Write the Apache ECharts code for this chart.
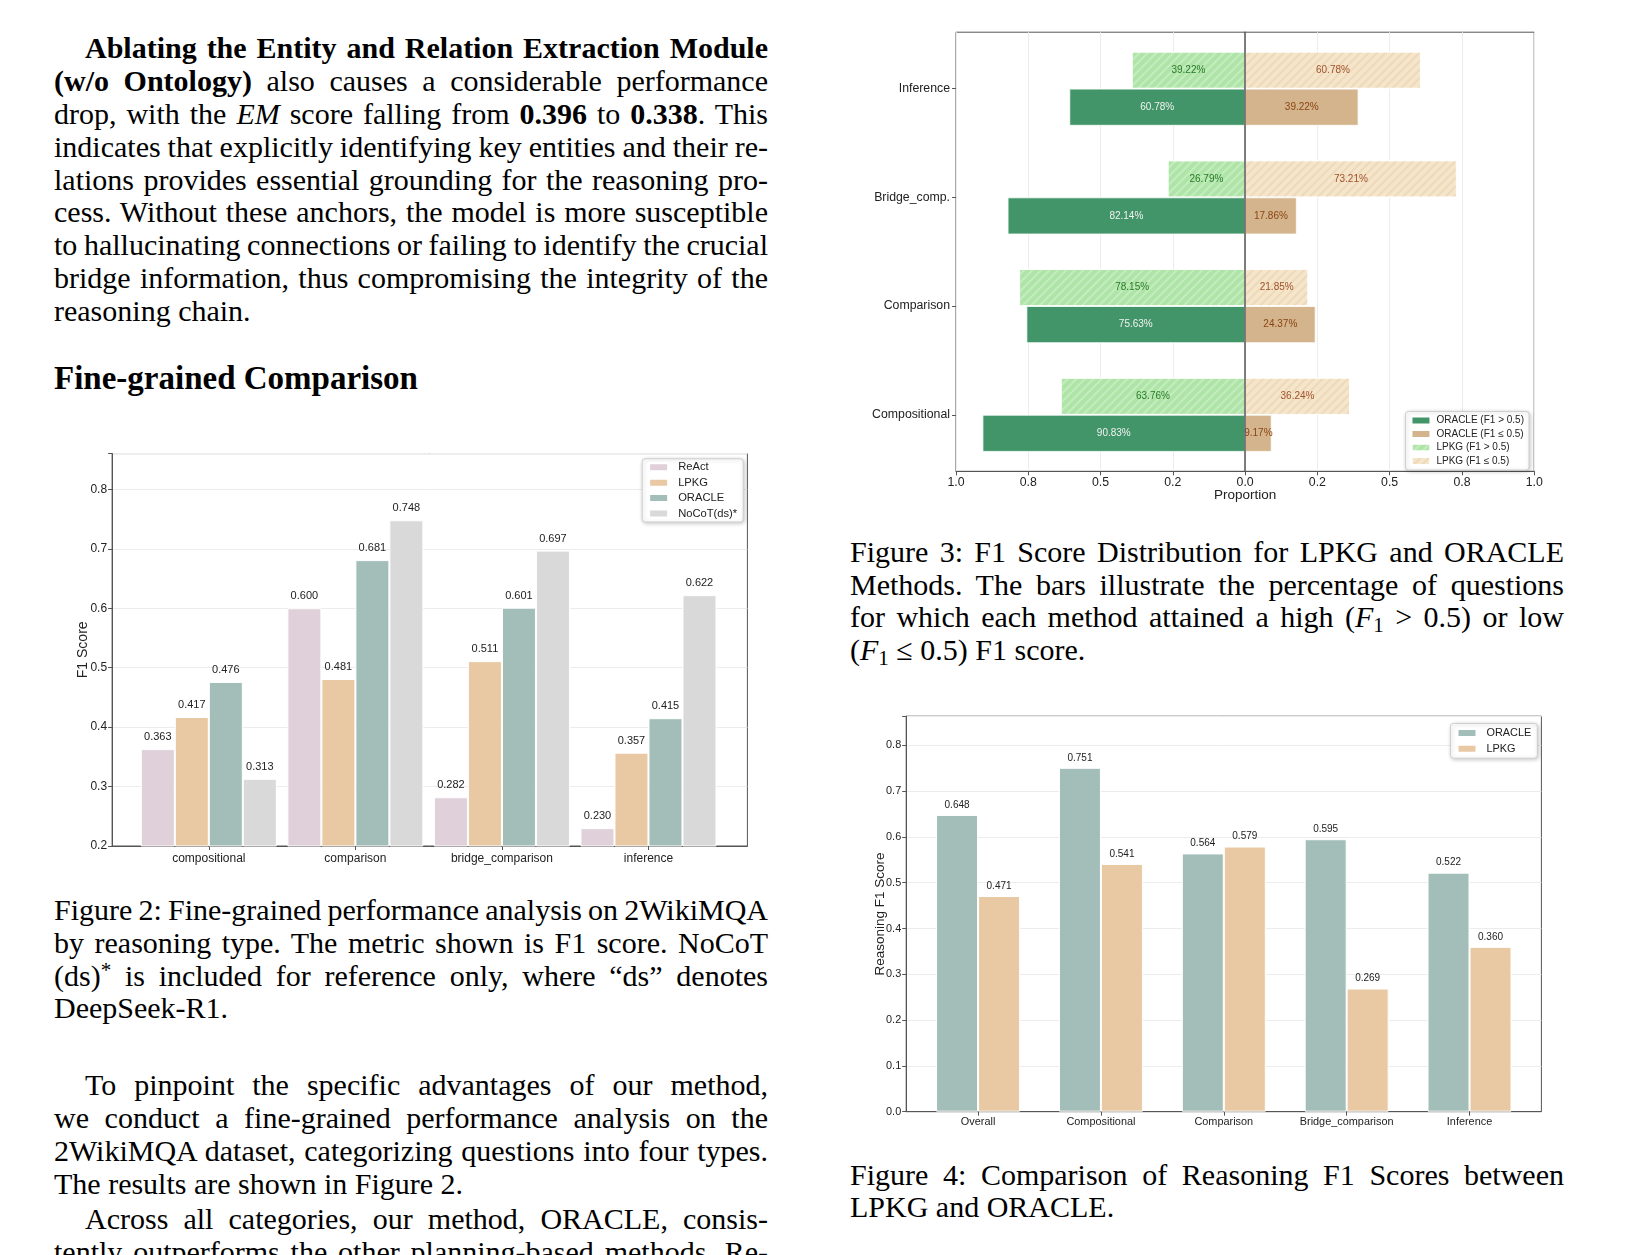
<!DOCTYPE html>
<html><head><meta charset="utf-8">
<script src="https://cdn.jsdelivr.net/npm/echarts@6/dist/echarts.min.js"></script>
<style>
html,body{margin:0;padding:0;background:#fff;width:1629px;height:1255px;overflow:hidden;position:relative;}
.txt{position:absolute;width:714px;font-family:"Liberation Serif","Times New Roman",serif;font-size:30px;line-height:32.83px;color:#000;}
.txt .l{display:block;height:32.83px;white-space:nowrap;text-align:justify;text-align-last:justify;}
.txt .l.e{text-align-last:left;}
.txt .l.i{padding-left:31px;}
.txt sub{font-size:0.7em;vertical-align:-0.25em;line-height:0;}
.txt sup{font-size:0.7em;vertical-align:0.45em;line-height:0;}
.head{position:absolute;font-family:"Liberation Serif","Times New Roman",serif;font-weight:bold;font-size:33px;line-height:36px;white-space:nowrap;}
.chart{position:absolute;}
</style></head>
<body>
<div class="txt" style="left:54px;top:32.3px;">
<span class="l i"><b>Ablating the Entity and Relation Extraction Module</b></span>
<span class="l"><b>(w/o Ontology)</b> also causes a considerable performance</span>
<span class="l">drop, with the <i>EM</i> score falling from <b>0.396</b> to <b>0.338</b>. This</span>
<span class="l">indicates that explicitly identifying key entities and their re-</span>
<span class="l">lations provides essential grounding for the reasoning pro-</span>
<span class="l">cess. Without these anchors, the model is more susceptible</span>
<span class="l">to hallucinating connections or failing to identify the crucial</span>
<span class="l">bridge information, thus compromising the integrity of the</span>
<span class="l e">reasoning chain.</span>
</div>
<div class="head" style="left:54px;top:360.3px;">Fine-grained Comparison</div>
<div class="txt" style="left:54px;top:893.9px;">
<span class="l">Figure 2: Fine-grained performance analysis on 2WikiMQA</span>
<span class="l">by reasoning type. The metric shown is F1 score. NoCoT</span>
<span class="l">(ds)<sup>*</sup> is included for reference only, where “ds” denotes</span>
<span class="l e">DeepSeek-R1.</span>
</div>
<div class="txt" style="left:54px;top:1069.3px;">
<span class="l i">To pinpoint the specific advantages of our method,</span>
<span class="l">we conduct a fine-grained performance analysis on the</span>
<span class="l">2WikiMQA dataset, categorizing questions into four types.</span>
<span class="l e">The results are shown in Figure 2.</span>
</div>
<div class="txt" style="left:54px;top:1203.2px;">
<span class="l i">Across all categories, our method, ORACLE, consis-</span>
<span class="l">tently outperforms the other planning-based methods. Re-</span>
</div>
<div class="txt" style="left:850px;top:535.8px;">
<span class="l">Figure 3: F1 Score Distribution for LPKG and ORACLE</span>
<span class="l">Methods. The bars illustrate the percentage of questions</span>
<span class="l">for which each method attained a high (<i>F</i><sub>1</sub> &gt; 0.5) or low</span>
<span class="l e">(<i>F</i><sub>1</sub> ≤ 0.5) F1 score.</span>
</div>
<div class="txt" style="left:850px;top:1158.6px;">
<span class="l">Figure 4: Comparison of Reasoning F1 Scores between</span>
<span class="l e">LPKG and ORACLE.</span>
</div>
<div id="fig2" class="chart" style="left:40px;top:430px;width:730px;height:460px;"></div>
<div id="fig3" class="chart" style="left:840px;top:20px;width:720px;height:500px;"></div>
<div id="fig4" class="chart" style="left:840px;top:690px;width:720px;height:450px;"></div>
<script>
// ---------- data ----------
const cats2 = ['compositional', 'comparison', 'bridge_comparison', 'inference'];
const react2 = [0.363, 0.600, 0.282, 0.230];
const lpkg2 = [0.417, 0.481, 0.511, 0.357];
const oracle2 = [0.476, 0.681, 0.601, 0.415];
const nocot2 = [0.313, 0.748, 0.697, 0.622];

const cats3 = ['Inference', 'Bridge_comp.', 'Comparison', 'Compositional'];
const lpkgHigh3 = [39.22, 26.79, 78.15, 63.76];
const lpkgLow3 = [60.78, 73.21, 21.85, 36.24];
const oracleHigh3 = [60.78, 82.14, 75.63, 90.83];
const oracleLow3 = [39.22, 17.86, 24.37, 9.17];
const xTicks3 = ['1.0', '0.8', '0.5', '0.2', '0.0', '0.2', '0.5', '0.8', '1.0'];

const cats4 = ['Overall', 'Compositional', 'Comparison', 'Bridge_comparison', 'Inference'];
const oracle4 = [0.648, 0.751, 0.564, 0.595, 0.522];
const lpkg4 = [0.471, 0.541, 0.579, 0.269, 0.360];

// ---------- fit justified lines whose natural width exceeds the column ----------
document.querySelectorAll('.txt .l').forEach(el => {
  const over = el.scrollWidth - el.clientWidth;
  if (over > 0) {
    const spaces = (el.textContent.trim().match(/ +/g) || []).length;
    if (spaces) el.style.wordSpacing = (-(over + 0.5) / spaces) + 'px';
  }
});

// ---------- common ----------
const FONT = '"Liberation Sans", Arial, sans-serif';
const AX = '#555';
const TXT = '#222';

function legendBox(extra) {
  return Object.assign({
    orient: 'vertical', icon: 'rect', itemWidth: 19, itemHeight: 8,
    backgroundColor: '#fff', borderColor: '#cfcfcf', borderWidth: 1, borderRadius: 3,
    shadowBlur: 4, shadowColor: 'rgba(0,0,0,0.22)', shadowOffsetX: 1, shadowOffsetY: 1,
    selectedMode: false
  }, extra);
}

function vbar(name, vals, color, width, dist, fs) {
  return {
    name, type: 'bar', data: vals.map((v, i) => [i, v]),
    barWidth: width, barGap: '0%',
    itemStyle: { color, borderColor: '#fff', borderWidth: 1 },
    label: { show: true, position: 'top', distance: dist, fontSize: fs, fontFamily: FONT, color: TXT,
      formatter: p => p.value[1].toFixed(3) },
    emphasis: { disabled: true }
  };
}

// ---------- Figure 2 ----------
const c2 = echarts.init(document.getElementById('fig2'));
const idx2 = cats2.map((_, i) => i);
const ymax2 = Math.max(...react2, ...lpkg2, ...oracle2, ...nocot2) * 1.15;
c2.setOption({
  animation: false,
  textStyle: { fontFamily: FONT },
  grid: { left: 72.1, top: 23.6, width: 635.3, height: 392.4, show: true, borderColor: AX, borderWidth: 1, outerBoundsMode: 'none' },
  xAxis: {
    type: 'value', min: -0.66, max: 3.675,
    axisLine: { show: true, onZero: false, lineStyle: { color: AX } },
    axisTick: { show: true, customValues: idx2, length: 4, lineStyle: { color: AX } },
    axisLabel: { customValues: idx2, formatter: v => cats2[Math.round(v)], fontSize: 12, color: TXT, margin: 7, fontFamily: FONT },
    splitLine: { show: false }
  },
  yAxis: {
    type: 'value', min: 0.2, max: ymax2, interval: 0.1,
    axisLine: { show: true, onZero: false, lineStyle: { color: AX } },
    axisTick: { show: true, length: 4, lineStyle: { color: AX } },
    axisLabel: { formatter: v => (v > 0.85 ? '' : v.toFixed(1)), fontSize: 12, color: TXT, margin: 5, fontFamily: FONT },
    splitLine: { show: true, lineStyle: { color: '#ececec' } },
    name: 'F1 Score', nameLocation: 'middle', nameGap: 22, nameMoveOverlap: false,
    nameTextStyle: { fontSize: 14, color: TXT, fontFamily: FONT }
  },
  legend: legendBox({ right: 26.8, top: 28.8, itemGap: 4.4, padding: [3, 6, 3, 6],
    data: ['ReAct', 'LPKG', 'ORACLE', 'NoCoT(ds)*'],
    textStyle: { fontSize: 11.2, color: TXT, fontFamily: FONT, padding: [0, 0, 0, 5] } }),
  series: [
    vbar('ReAct', react2, '#e0d0d9', 34, 6.5, 11),
    vbar('LPKG', lpkg2, '#e8c9a3', 34, 6.5, 11),
    vbar('ORACLE', oracle2, '#a3beb9', 34, 6.5, 11),
    vbar('NoCoT(ds)*', nocot2, '#d9d9d9', 34, 6.5, 11)
  ]
});

// ---------- Figure 3 ----------
const c3 = echarts.init(document.getElementById('fig3'));
function hbar(name, stack, pcts, sign, color, labelColor, decal) {
  const s = {
    name, type: 'bar', stack, xAxisIndex: 1, yAxisIndex: 1,
    data: pcts.map(v => sign * v / 100),
    barWidth: 37, barGap: '0%',
    itemStyle: { color, borderColor: '#fff', borderWidth: 0.8 },
    label: { show: true, position: 'inside', fontSize: 10, fontFamily: FONT, color: labelColor,
      formatter: p => pcts[p.dataIndex].toFixed(2) + '%' },
    emphasis: { disabled: true }
  };
  if (decal) s.itemStyle.decal = decal;
  return s;
}
const hatch = c => ({ symbol: 'rect', symbolSize: 1, dashArrayX: [1, 0], dashArrayY: [1.2, 4], rotation: -Math.PI / 4, color: c });
const s3 = [
  hbar('LPKG (F1 > 0.5)', 'lpkg', lpkgHigh3, -1, '#aee5a7', '#2a7a2a', hatch('rgba(255,255,255,0.28)')),
  hbar('LPKG (F1 ≤ 0.5)', 'lpkg', lpkgLow3, 1, '#f5e5ca', '#a0522d', hatch('rgba(215,180,130,0.25)')),
  hbar('ORACLE (F1 > 0.5)', 'oracle', oracleHigh3, -1, '#429568', '#f2f2f2'),
  hbar('ORACLE (F1 ≤ 0.5)', 'oracle', oracleLow3, 1, '#d3b48c', '#8b4513')
];
const frame3 = { left: 116, top: 12.2, width: 578.2, height: 439.1 };
const band3 = 108.7;
c3.setOption({
  animation: false,
  textStyle: { fontFamily: FONT },
  grid: [
    Object.assign({ show: true, borderColor: AX, borderWidth: 1, outerBoundsMode: 'none' }, frame3),
    { left: frame3.left, width: frame3.width, top: frame3.top + (frame3.height - band3 * cats3.length) / 2,
      height: band3 * cats3.length, outerBoundsMode: 'none' }
  ],
  xAxis: [
    {
      gridIndex: 0, type: 'value', min: -1, max: 1, interval: 0.25,
      axisLine: { show: true, onZero: false, lineStyle: { color: AX } },
      axisTick: { show: true, length: 4, lineStyle: { color: AX } },
      axisLabel: { formatter: v => xTicks3[Math.round((v + 1) / 0.25)], fontSize: 12.3, color: TXT, margin: 5, fontFamily: FONT },
      splitLine: { show: true, lineStyle: { color: '#ececec' } },
      name: 'Proportion', nameLocation: 'middle', nameGap: 17, nameMoveOverlap: false,
      nameTextStyle: { fontSize: 13.5, color: TXT, fontFamily: FONT }
    },
    { gridIndex: 1, type: 'value', min: -1, max: 1, show: false }
  ],
  yAxis: [
    {
      gridIndex: 0, type: 'value', min: 0, max: 1, z: 10,
      axisLine: { show: true, onZero: true, lineStyle: { color: '#555', width: 1.5 } },
      axisTick: { show: false }, axisLabel: { show: false }, splitLine: { show: false }
    },
    {
      gridIndex: 1, type: 'category', data: cats3, inverse: true,
      axisLine: { show: false, onZero: false },
      axisTick: { show: true, alignWithLabel: true, length: 4, lineStyle: { color: AX } },
      axisLabel: { fontSize: 12.3, color: TXT, margin: 6, fontFamily: FONT },
      splitLine: { show: false }
    }
  ],
  legend: legendBox({ right: 31, bottom: 50, itemGap: 3.5, padding: [4, 5, 4, 5],
    data: ['ORACLE (F1 > 0.5)', 'ORACLE (F1 ≤ 0.5)', 'LPKG (F1 > 0.5)', 'LPKG (F1 ≤ 0.5)'],
    textStyle: { fontSize: 10, color: TXT, fontFamily: FONT, padding: [0, 0, 0, 1] } }),
  series: s3
});

// ---------- Figure 4 ----------
const c4 = echarts.init(document.getElementById('fig4'));
const idx4 = cats4.map((_, i) => i);
const ymax4 = Math.max(...oracle4, ...lpkg4) * 1.15;
c4.setOption({
  animation: false,
  textStyle: { fontFamily: FONT },
  grid: { left: 66.2, top: 26.2, width: 635.2, height: 395.5, show: true, borderColor: AX, borderWidth: 1, outerBoundsMode: 'none' },
  xAxis: {
    type: 'value', min: -0.585, max: 4.585,
    axisLine: { show: true, onZero: false, lineStyle: { color: AX } },
    axisTick: { show: true, customValues: idx4, length: 4, lineStyle: { color: AX } },
    axisLabel: { customValues: idx4, formatter: v => cats4[Math.round(v)], fontSize: 10.9, color: TXT, margin: 5, fontFamily: FONT },
    splitLine: { show: false }
  },
  yAxis: {
    type: 'value', min: 0, max: ymax4, interval: 0.1,
    axisLine: { show: true, onZero: false, lineStyle: { color: AX } },
    axisTick: { show: true, length: 4, lineStyle: { color: AX } },
    axisLabel: { formatter: v => (v > 0.85 ? '' : v.toFixed(1)), fontSize: 10.9, color: TXT, margin: 5, fontFamily: FONT },
    splitLine: { show: true, lineStyle: { color: '#ececec' } },
    name: 'Reasoning F1 Score', nameLocation: 'middle', nameGap: 19, nameMoveOverlap: false,
    nameTextStyle: { fontSize: 13.5, color: TXT, fontFamily: FONT }
  },
  legend: legendBox({ right: 22.7, top: 33.5, itemGap: 4.7, padding: [4, 6, 4, 6],
    data: ['ORACLE', 'LPKG'],
    textStyle: { fontSize: 10.9, color: TXT, fontFamily: FONT, padding: [0, 0, 0, 5] } }),
  series: [
    vbar('ORACLE', oracle4, '#a3beb9', 42, 5, 10),
    vbar('LPKG', lpkg4, '#e8c9a3', 42, 5, 10)
  ]
});
</script>
</body></html>
